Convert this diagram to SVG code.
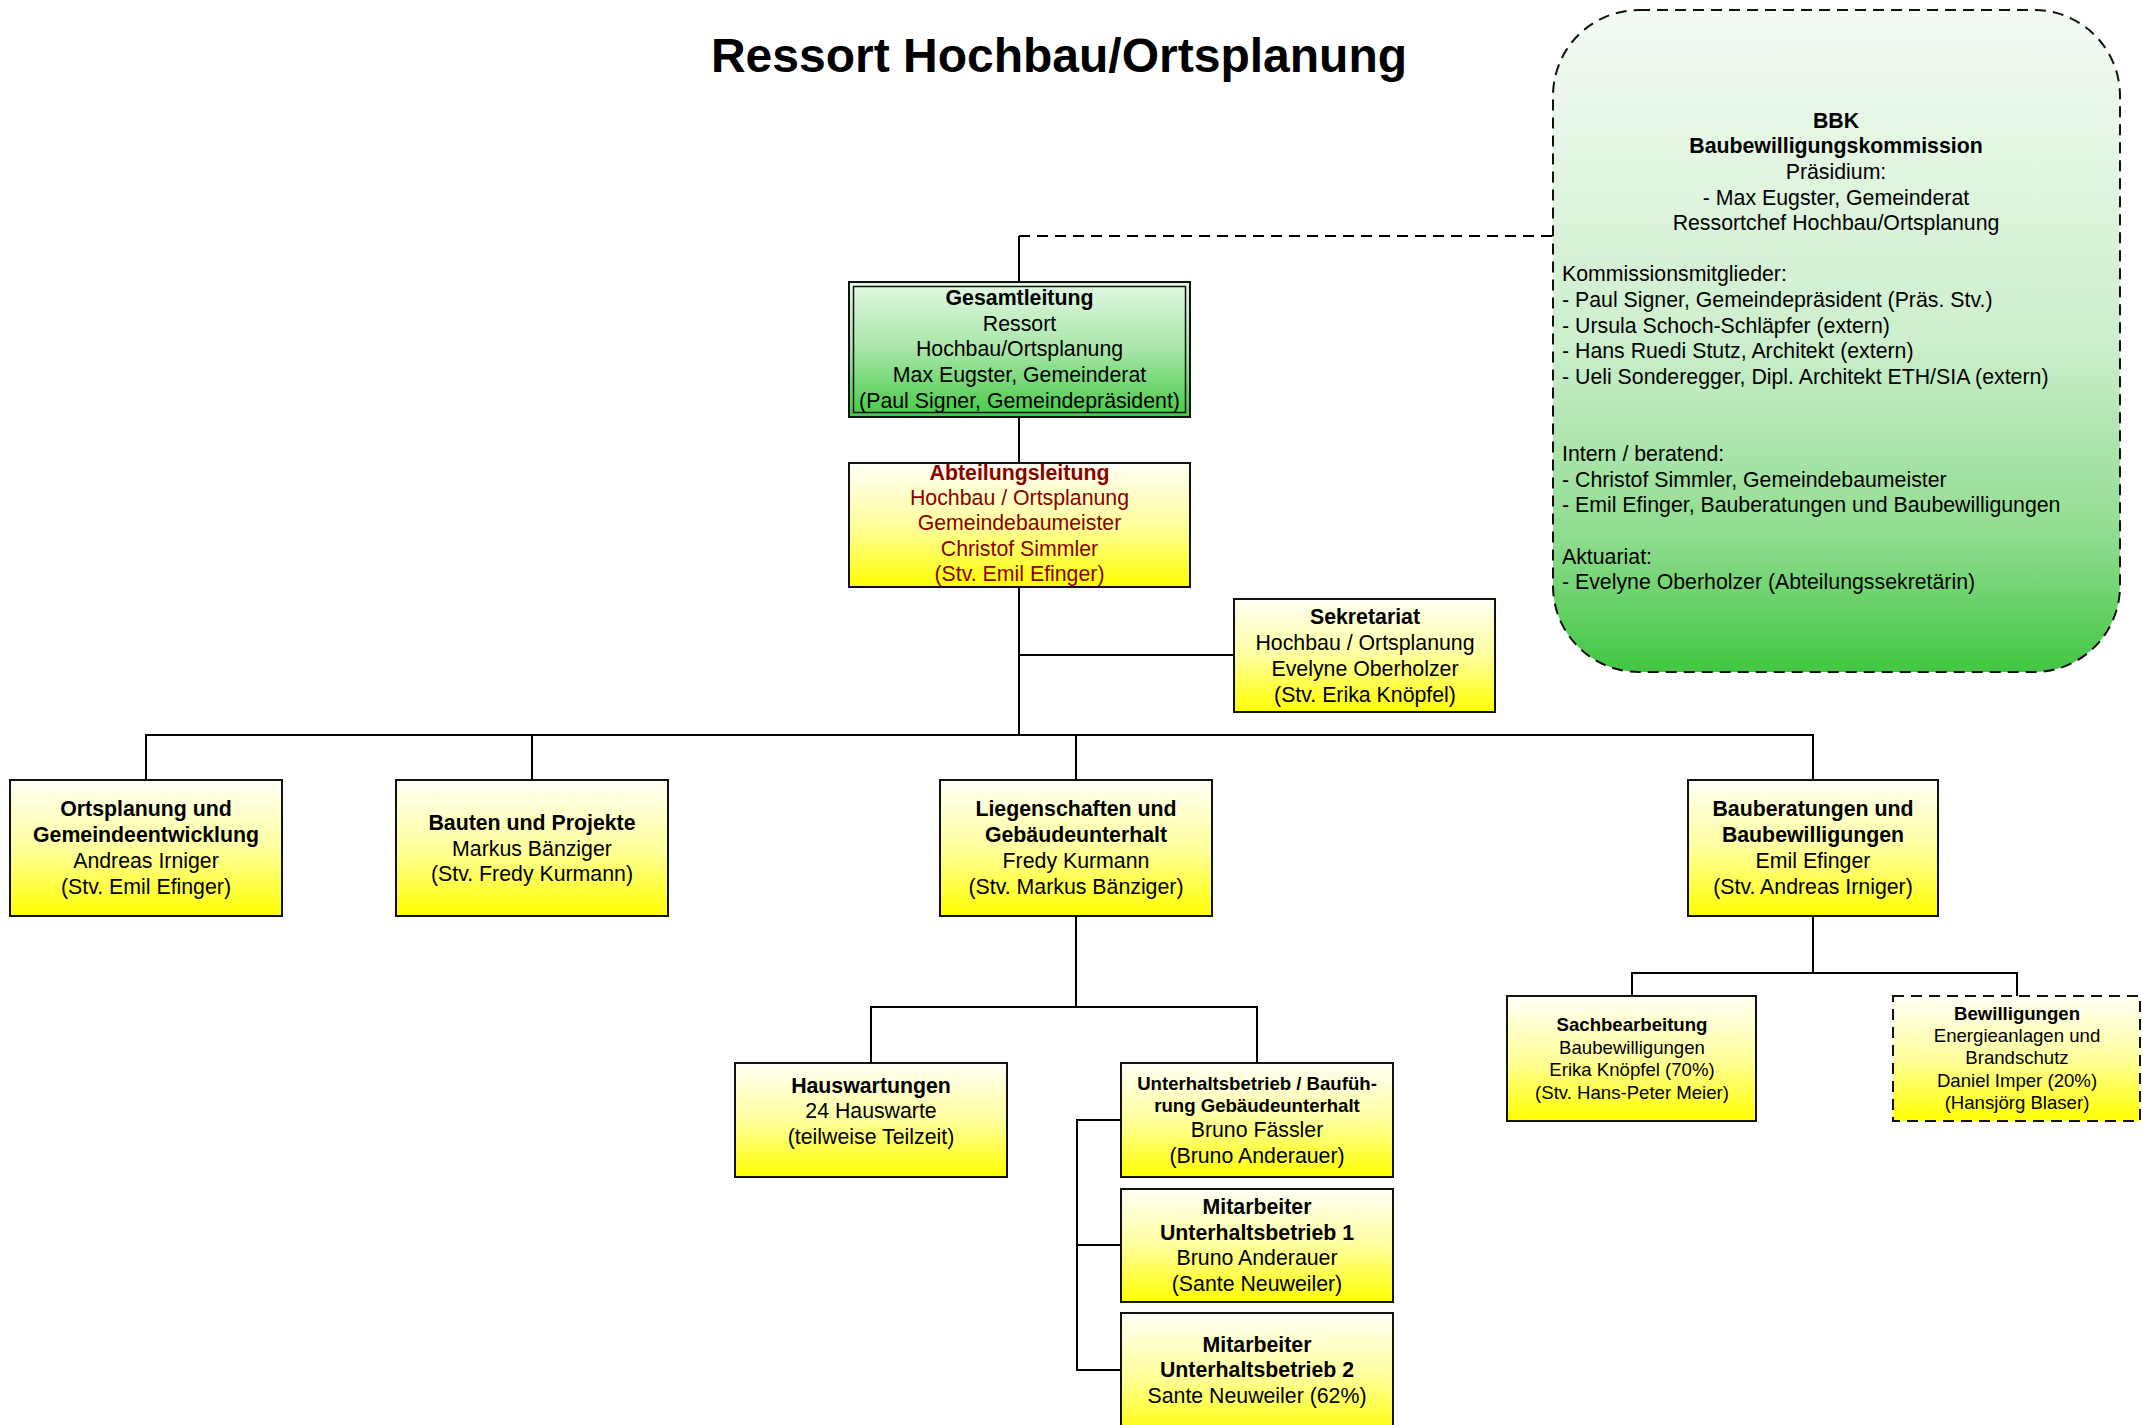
<svg xmlns="http://www.w3.org/2000/svg" width="2143" height="1425" viewBox="0 0 2143 1425">
<defs>
<linearGradient id="gy" x1="0" y1="0" x2="0" y2="1">
<stop offset="0" stop-color="#FFFFF6"/>
<stop offset="0.5" stop-color="#FFFF9E"/>
<stop offset="1" stop-color="#FFFF00"/>
</linearGradient>
<linearGradient id="gg" x1="0" y1="0" x2="0" y2="1">
<stop offset="0" stop-color="#E4F8E4"/>
<stop offset="0.5" stop-color="#A8E6A8"/>
<stop offset="1" stop-color="#44C944"/>
</linearGradient>
<linearGradient id="gb" x1="0" y1="0" x2="0" y2="1">
<stop offset="0" stop-color="#F4FBF4"/>
<stop offset="0.5" stop-color="#CDEFCD"/>
<stop offset="0.8" stop-color="#8EDC8E"/>
<stop offset="1" stop-color="#42C642"/>
</linearGradient>
</defs>
<style>
.box{stroke:#111;stroke-width:2}
.y{fill:url(#gy)}
.dash{stroke-dasharray:11 7}
.t{font-family:"Liberation Sans",Arial,sans-serif;font-size:21.3px;text-anchor:middle;fill:#000}
.l{text-anchor:start}
.b{font-weight:bold}
.s{font-size:18.6px}
.red{fill:#8B0000}
.conn{stroke:#000;stroke-width:2;fill:none}
</style>
<rect width="2143" height="1425" fill="#fff"/>
<text x="1059" y="72" font-family="'Liberation Sans',Arial,sans-serif" font-size="48" font-weight="bold" text-anchor="middle" fill="#000">Ressort Hochbau/Ortsplanung</text>

<g id="connectors">
<path class="conn dash" d="M1019,236 H1553"/>
<path class="conn" d="M1019,236 V282"/>
<path class="conn" d="M1019,417 V463"/>
<path class="conn" d="M1019,587 V735"/>
<path class="conn" d="M1019,655 H1234"/>
<path class="conn" d="M146,780 V735 H1813 V780"/>
<path class="conn" d="M532,735 V780"/>
<path class="conn" d="M1076,735 V780"/>
<path class="conn" d="M1076,916 V1007"/>
<path class="conn" d="M871,1063 V1007 H1257 V1063"/>
<path class="conn" d="M1121,1120 H1077 V1370 H1121"/>
<path class="conn" d="M1077,1245 H1121"/>
<path class="conn" d="M1813,916 V973"/>
<path class="conn" d="M1632,996 V973 H2017 V996"/>
</g>

<g id="bbk">
<rect class="box dash" x="1553" y="10" width="567" height="662" rx="86" ry="86" fill="url(#gb)"/>
<text class="t b" x="1836" y="127.5">BBK</text>
<text class="t b" x="1836" y="153">Baubewilligungskommission</text>
<text class="t" x="1836" y="178.8">Präsidium:</text>
<text class="t" x="1836" y="204.5">- Max Eugster, Gemeinderat</text>
<text class="t" x="1836" y="230">Ressortchef Hochbau/Ortsplanung</text>
<text class="t l" x="1562" y="281.4">Kommissionsmitglieder:</text>
<text class="t l" x="1562" y="307">- Paul Signer, Gemeindepräsident (Präs. Stv.)</text>
<text class="t l" x="1562" y="332.7">- Ursula Schoch-Schläpfer (extern)</text>
<text class="t l" x="1562" y="358.4">- Hans Ruedi Stutz, Architekt (extern)</text>
<text class="t l" x="1562" y="384">- Ueli Sonderegger, Dipl. Architekt ETH/SIA (extern)</text>
<text class="t l" x="1562" y="461">Intern / beratend:</text>
<text class="t l" x="1562" y="486.6">- Christof Simmler, Gemeindebaumeister</text>
<text class="t l" x="1562" y="512.3">- Emil Efinger, Bauberatungen und Baubewilligungen</text>
<text class="t l" x="1562" y="563.6">Aktuariat:</text>
<text class="t l" x="1562" y="589.2">- Evelyne Oberholzer (Abteilungssekretärin)</text>
</g>

<g id="gesamtleitung">
<rect class="box" x="849" y="282" width="341" height="135" fill="url(#gg)"/>
<rect x="853.5" y="286.5" width="332" height="126" fill="none" stroke="#111" stroke-width="1.5"/>
<text class="t b" x="1019.5" y="305">Gesamtleitung</text>
<text class="t" x="1019.5" y="330.5">Ressort</text>
<text class="t" x="1019.5" y="356">Hochbau/Ortsplanung</text>
<text class="t" x="1019.5" y="382">Max Eugster, Gemeinderat</text>
<text class="t" x="1019.5" y="407.5">(Paul Signer, Gemeindepräsident)</text>
</g>

<g id="abteilungsleitung">
<rect class="box y" x="849" y="463" width="341" height="124"/>
<text class="t b red" x="1019.5" y="479.5">Abteilungsleitung</text>
<text class="t red" x="1019.5" y="504.5">Hochbau / Ortsplanung</text>
<text class="t red" x="1019.5" y="530">Gemeindebaumeister</text>
<text class="t red" x="1019.5" y="555.5">Christof Simmler</text>
<text class="t red" x="1019.5" y="581">(Stv. Emil Efinger)</text>
</g>

<g id="sekretariat">
<rect class="box y" x="1234" y="599" width="261" height="113"/>
<text class="t b" x="1365" y="623.5">Sekretariat</text>
<text class="t" x="1365" y="649.5">Hochbau / Ortsplanung</text>
<text class="t" x="1365" y="675.5">Evelyne Oberholzer</text>
<text class="t" x="1365" y="701.5">(Stv. Erika Knöpfel)</text>
</g>

<g id="ortsplanung">
<rect class="box y" x="10" y="780" width="272" height="136"/>
<text class="t b" x="146" y="816">Ortsplanung und</text>
<text class="t b" x="146" y="842">Gemeindeentwicklung</text>
<text class="t" x="146" y="867.5">Andreas Irniger</text>
<text class="t" x="146" y="893.5">(Stv. Emil Efinger)</text>
</g>

<g id="bauten">
<rect class="box y" x="396" y="780" width="272" height="136"/>
<text class="t b" x="532" y="829.5">Bauten und Projekte</text>
<text class="t" x="532" y="855.5">Markus Bänziger</text>
<text class="t" x="532" y="880.5">(Stv. Fredy Kurmann)</text>
</g>

<g id="liegenschaften">
<rect class="box y" x="940" y="780" width="272" height="136"/>
<text class="t b" x="1076" y="816">Liegenschaften und</text>
<text class="t b" x="1076" y="842">Gebäudeunterhalt</text>
<text class="t" x="1076" y="867.5">Fredy Kurmann</text>
<text class="t" x="1076" y="893.5">(Stv. Markus Bänziger)</text>
</g>

<g id="bauberatungen">
<rect class="box y" x="1688" y="780" width="250" height="136"/>
<text class="t b" x="1813" y="816">Bauberatungen und</text>
<text class="t b" x="1813" y="842">Baubewilligungen</text>
<text class="t" x="1813" y="867.5">Emil Efinger</text>
<text class="t" x="1813" y="893.5">(Stv. Andreas Irniger)</text>
</g>

<g id="hauswartungen">
<rect class="box y" x="735" y="1063" width="272" height="114"/>
<text class="t b" x="871" y="1092.5">Hauswartungen</text>
<text class="t" x="871" y="1117.5">24 Hauswarte</text>
<text class="t" x="871" y="1143.5">(teilweise Teilzeit)</text>
</g>

<g id="unterhaltsbetrieb">
<rect class="box y" x="1121" y="1063" width="272" height="114"/>
<text class="t b s" x="1257" y="1089.5">Unterhaltsbetrieb / Bauf&#252;h-</text>
<text class="t b s" x="1257" y="1111.5">rung Gebäudeunterhalt</text>
<text class="t" x="1257" y="1136.5">Bruno Fässler</text>
<text class="t" x="1257" y="1162.5">(Bruno Anderauer)</text>
</g>

<g id="mitarbeiter1">
<rect class="box y" x="1121" y="1189" width="272" height="113"/>
<text class="t b" x="1257" y="1213.5">Mitarbeiter</text>
<text class="t b" x="1257" y="1239.5">Unterhaltsbetrieb 1</text>
<text class="t" x="1257" y="1264.5">Bruno Anderauer</text>
<text class="t" x="1257" y="1290.5">(Sante Neuweiler)</text>
</g>

<g id="mitarbeiter2">
<rect class="box y" x="1121" y="1313" width="272" height="124"/>
<text class="t b" x="1257" y="1351.5">Mitarbeiter</text>
<text class="t b" x="1257" y="1376.5">Unterhaltsbetrieb 2</text>
<text class="t" x="1257" y="1402.5">Sante Neuweiler (62%)</text>
</g>

<g id="sachbearbeitung">
<rect class="box y" x="1507" y="996" width="249" height="125"/>
<text class="t b s" x="1632" y="1030.5">Sachbearbeitung</text>
<text class="t s" x="1632" y="1053.5">Baubewilligungen</text>
<text class="t s" x="1632" y="1075.5">Erika Knöpfel (70%)</text>
<text class="t s" x="1632" y="1098.5">(Stv. Hans-Peter Meier)</text>
</g>

<g id="bewilligungen">
<rect class="box y dash" x="1893" y="996" width="247" height="125"/>
<text class="t b s" x="2017" y="1019.5">Bewilligungen</text>
<text class="t s" x="2017" y="1041.5">Energieanlagen und</text>
<text class="t s" x="2017" y="1063.5">Brandschutz</text>
<text class="t s" x="2017" y="1086.5">Daniel Imper (20%)</text>
<text class="t s" x="2017" y="1108.5">(Hansjörg Blaser)</text>
</g>
</svg>
